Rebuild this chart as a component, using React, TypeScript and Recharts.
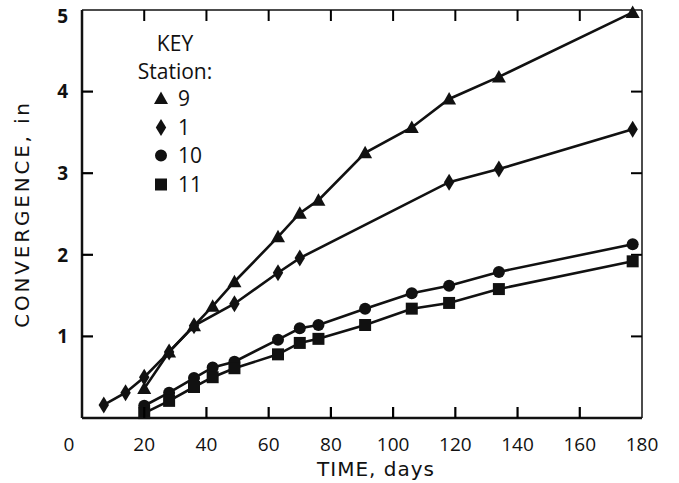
import { LineChart, Line, XAxis, YAxis, Legend } from 'recharts';

// station readings, days vs convergence (in)
const station9 = [
  { day: 20, v: 0.36 }, { day: 28, v: 0.81 }, { day: 36, v: 1.13 }, { day: 42, v: 1.37 },
  { day: 49, v: 1.67 }, { day: 63, v: 2.22 }, { day: 70, v: 2.51 }, { day: 76, v: 2.67 },
  { day: 91, v: 3.25 }, { day: 106, v: 3.56 }, { day: 118, v: 3.91 }, { day: 134, v: 4.18 },
  { day: 177, v: 4.97 },
];
const station1 = [
  { day: 7, v: 0.16 }, { day: 14, v: 0.31 }, { day: 20, v: 0.5 }, { day: 28, v: 0.81 },
  { day: 36, v: 1.13 }, { day: 49, v: 1.4 }, { day: 63, v: 1.78 }, { day: 70, v: 1.96 },
  { day: 118, v: 2.89 }, { day: 134, v: 3.05 }, { day: 177, v: 3.54 },
];
const station10 = [
  { day: 20, v: 0.15 }, { day: 28, v: 0.31 }, { day: 36, v: 0.49 }, { day: 42, v: 0.62 },
  { day: 49, v: 0.69 }, { day: 63, v: 0.96 }, { day: 70, v: 1.1 }, { day: 76, v: 1.14 },
  { day: 91, v: 1.34 }, { day: 106, v: 1.53 }, { day: 118, v: 1.62 }, { day: 134, v: 1.79 },
  { day: 177, v: 2.13 },
];
const station11 = [
  { day: 20, v: 0.06 }, { day: 28, v: 0.21 }, { day: 36, v: 0.38 }, { day: 42, v: 0.5 },
  { day: 49, v: 0.61 }, { day: 63, v: 0.78 }, { day: 70, v: 0.92 }, { day: 76, v: 0.97 },
  { day: 91, v: 1.14 }, { day: 106, v: 1.34 }, { day: 118, v: 1.41 }, { day: 134, v: 1.58 },
  { day: 177, v: 1.92 },
];

const xTicks = [0, 20, 40, 60, 80, 100, 120, 140, 160, 180];
const yTicks = [1, 2, 3, 4, 5];

const W = 679;
const H = 483;
const MARGIN = { top: 9, right: 36, bottom: 0, left: 0 };
const PLOT_TOP = MARGIN.top + 1; // top axis is 1px tall
const PLOT_RIGHT = W - MARGIN.right - 1; // right axis is 1px wide
const MARK = 11; // inward tick length
const X_MARGIN = 20;
const Y_MARGIN = 14;

const INK = '#111';
const FONT = '"Open Sans", "DejaVu Sans", sans-serif';
const WIDE = '"DejaVu Sans", sans-serif';

const markerPath = (shape: string, cx: number, cy: number) => {
  switch (shape) {
    case 'triangle':
      return `M${cx},${cy - 7}L${cx + 7},${cy + 5.5}L${cx - 7},${cy + 5.5}Z`;
    case 'diamond':
      return `M${cx},${cy - 8.5}L${cx + 5.2},${cy}L${cx},${cy + 8.5}L${cx - 5.2},${cy}Z`;
    case 'square':
      return `M${cx - 6},${cy - 6}h12v12h-12Z`;
    default:
      return `M${cx - 6},${cy}a6,6 0 1,0 12,0a6,6 0 1,0 -12,0Z`;
  }
};

const makeDot = (shape: string) => (props: any) => {
  const { cx, cy, index } = props;
  if (cx == null || cy == null) return <g key={index} />;
  return <path key={`${shape}-${index}`} d={markerPath(shape, cx, cy)} fill={INK} />;
};

const series = [
  { name: '9', shape: 'triangle', data: station9 },
  { name: '1', shape: 'diamond', data: station1 },
  { name: '10', shape: 'circle', data: station10 },
  { name: '11', shape: 'square', data: station11 },
];

// bottom labels + inward tick marks on bottom and top edges
const XTick = (props: any) => {
  const { x, y, payload } = props;
  const v = payload.value;
  const base = y - X_MARGIN;
  const inner = v !== xTicks[0] && v !== xTicks[xTicks.length - 1];
  return (
    <g>
      {inner && <path d={`M${x},${base}V${base - MARK}`} stroke="#000" strokeWidth={2.2} fill="none" />}
      {inner && <path d={`M${x},${PLOT_TOP}V${PLOT_TOP + MARK}`} stroke="#000" strokeWidth={2} fill="none" />}
      <text x={v === 0 ? x - 13 : x} y={y} dy="0.71em" textAnchor="middle" fill={INK} fontSize={19} fontFamily={FONT}>
        {v}
      </text>
    </g>
  );
};

// left labels + inward tick marks on left and right edges
const YTick = (props: any) => {
  const { x, y, payload } = props;
  const v = payload.value;
  const edge = x + Y_MARGIN;
  const inner = v !== yTicks[yTicks.length - 1];
  return (
    <g>
      {inner && <path d={`M${edge},${y}H${edge + MARK}`} stroke="#000" strokeWidth={2.2} fill="none" />}
      {inner && <path d={`M${PLOT_RIGHT},${y}H${PLOT_RIGHT - MARK}`} stroke="#000" strokeWidth={2} fill="none" />}
      <text x={x} y={inner ? y : y + 6} dy="0.355em" textAnchor="end" fill={INK} fontSize={19} fontWeight={700} fontFamily={FONT}>
        {v}
      </text>
    </g>
  );
};

const KeyBox = () => (
  <div style={{ fontFamily: FONT, color: INK, width: 110 }}>
    <div style={{ height: 30, lineHeight: '30px', fontSize: 21, textAlign: 'center' }}>KEY</div>
    <div style={{ height: 26, lineHeight: '26px', fontSize: 21, textAlign: 'center' }}>Station:</div>
    {series.map((s) => (
      <div key={s.name} style={{ height: 28.5, display: 'flex', alignItems: 'center' }}>
        <svg width={16} height={18} style={{ marginLeft: 33 }}>
          <path d={markerPath(s.shape, 8, 9.5)} fill={INK} />
        </svg>
        <span style={{ marginLeft: 9, fontSize: 21, lineHeight: '28px' }}>{s.name}</span>
      </div>
    ))}
  </div>
);

export default function App() {
  return (
    <div style={{ position: 'absolute', left: 0, top: 0, background: '#fff' }}>
      <LineChart width={W} height={H} margin={MARGIN}>
        <XAxis
          xAxisId="bottom"
          dataKey="day"
          type="number"
          domain={[0, 180]}
          ticks={xTicks}
          height={65}
          stroke={INK}
          strokeWidth={2.5}
          tickLine={false}
          tickSize={0}
          tickMargin={X_MARGIN}
          tick={<XTick />}
          label={{ value: 'TIME, days', position: 'center', dx: 14, dy: 18, fill: INK, fontSize: 20, fontFamily: WIDE, letterSpacing: 1 }}
        />
        <XAxis
          xAxisId="top"
          orientation="top"
          type="number"
          domain={[0, 180]}
          height={1}
          stroke={INK}
          strokeWidth={1.5}
          tickLine={false}
          tick={false}
        />
        <YAxis
          yAxisId="left"
          type="number"
          domain={[0, 5]}
          ticks={yTicks}
          width={82}
          stroke={INK}
          strokeWidth={2.5}
          tickLine={false}
          tickSize={0}
          tickMargin={Y_MARGIN}
          tick={<YTick />}
          label={{ value: 'CONVERGENCE, in', angle: -90, position: 'center', dx: -19, fill: INK, fontSize: 20, fontFamily: WIDE, letterSpacing: 2.8 }}
        />
        <YAxis
          yAxisId="right"
          orientation="right"
          type="number"
          domain={[0, 5]}
          width={1}
          stroke={INK}
          strokeWidth={1.5}
          tickLine={false}
          tick={false}
        />
        <Legend
          layout="horizontal"
          verticalAlign="middle"
          align="center"
          wrapperStyle={{ left: 120, top: 28, width: 110 }}
          content={<KeyBox />}
        />
        {series.map((s) => (
          <Line
            key={s.name}
            name={s.name}
            xAxisId="bottom"
            yAxisId="left"
            data={s.data}
            dataKey="v"
            type="linear"
            stroke={INK}
            strokeWidth={2.6}
            dot={makeDot(s.shape)}
            activeDot={false}
            legendType="none"
            isAnimationActive={false}
          />
        ))}
      </LineChart>
    </div>
  );
}
